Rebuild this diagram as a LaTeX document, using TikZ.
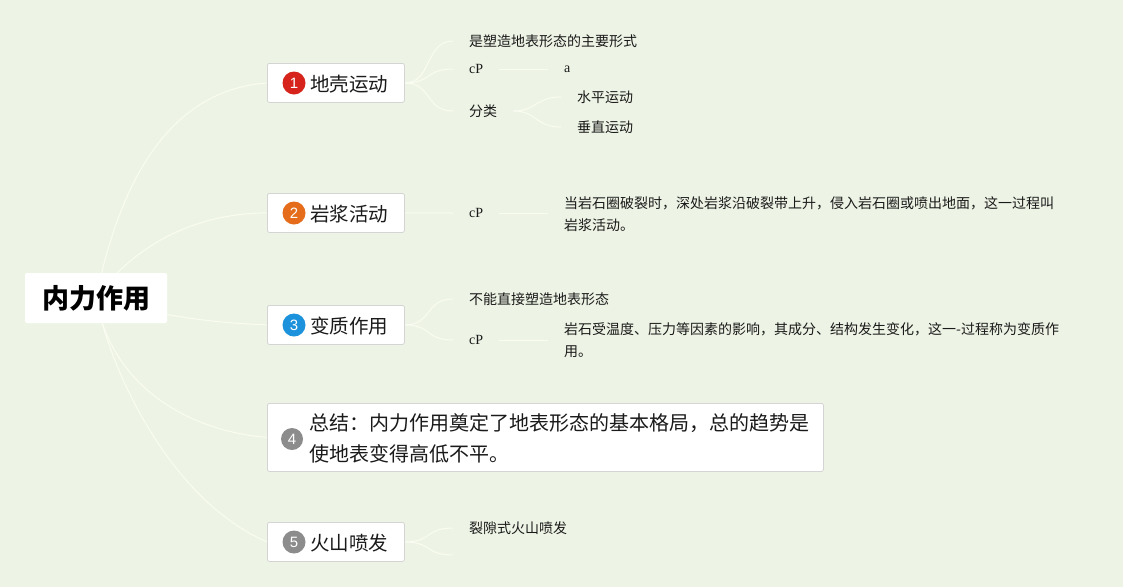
\documentclass[tikz,border=0pt]{standalone}
\usepackage{fontspec}
\setmainfont{Noto Sans CJK SC}
\newfontfamily\latinserif{Liberation Serif}
\newfontfamily\numfont{Liberation Sans}
\definecolor{bgc}{RGB}{237,244,229}
\definecolor{linec}{RGB}{250,252,242}
\definecolor{boxborder}{RGB}{212,212,212}
\definecolor{txt}{RGB}{26,26,26}
\definecolor{badgered}{RGB}{214,36,28}
\definecolor{badgeorange}{RGB}{228,108,26}
\definecolor{badgeblue}{RGB}{28,146,220}
\definecolor{badgegrey}{RGB}{140,140,140}
\pgfdeclarelayer{back}
\pgfdeclarelayer{lines}
\pgfsetlayers{back,lines,main}
\begin{document}
\begin{tikzpicture}[x=1pt,y=-1pt,
  mainbox/.style={draw=boxborder, fill=white, rounded corners=2pt, line width=0.8pt,
    minimum width=137pt, minimum height=39pt, inner sep=0pt, anchor=north west},
  rootbox/.style={fill=white, rounded corners=2pt, minimum width=142pt, minimum height=50pt,
    inner sep=0pt, text=black, font=\fontsize{27}{30}\selectfont\bfseries},
  badge/.style={circle, fill=#1, minimum size=23pt, inner sep=0pt, text=white,
    font=\numfont\fontsize{15}{15}\selectfont},
  maintext/.style={anchor=west, inner sep=0pt, text=txt, font=\fontsize{19.5}{24}\selectfont},
  sub/.style={anchor=west, inner xsep=16pt, inner ysep=0pt, text=txt,
    font=\fontsize{14}{22}\selectfont, align=left},
  latin/.style={anchor=west, inner xsep=16pt, inner ysep=0pt, text=txt,
    font=\latinserif\fontsize{14}{16}\selectfont},
  conn/.style={draw=linec, line width=1pt}]
\begin{pgfonlayer}{back}
\fill[bgc] (0,0) rectangle (1123,587);
\end{pgfonlayer}
\useasboundingbox (0,0) rectangle (1123,587);

% root
\node[rootbox] (root) at (96,298) {内力作用};

% main topics
\node[mainbox] (n1) at (267,63) {};
\node[badge=badgered] (b1) at (294,83) {1};
\node[maintext] (t1) at (310,84) {地壳运动};

\node[mainbox] (n2) at (267,193) {};
\node[badge=badgeorange] (b2) at (294,213) {2};
\node[maintext] (t2) at (310,214) {岩浆活动};

\node[mainbox] (n3) at (267,305) {};
\node[badge=badgeblue] (b3) at (294,325) {3};
\node[maintext] (t3) at (310,326) {变质作用};

\node[mainbox, minimum width=556pt, minimum height=68pt] (n4) at (267,403) {};
\node[badge=badgegrey, minimum size=22pt] (b4) at (292,439) {4};
\node[maintext, align=left, font=\fontsize{20}{31}\selectfont] (t4) at (309,438)
  {总结：内力作用奠定了地表形态的基本格局，总的趋势是\\使地表变得高低不平。};

\node[mainbox] (n5) at (267,522) {};
\node[badge=badgegrey] (b5) at (294,542) {5};
\node[maintext] (t5) at (310,543) {火山喷发};

% sub topics of 1
\node[sub] (s11) at (453,41) {是塑造地表形态的主要形式};
\node[latin] (s12) at (453,69) {cP};
\node[latin] (s12a) at (548,69) {a};
\node[sub] (s13) at (453,111) {分类};
\node[sub] (s131) at (561,97) {水平运动};
\node[sub] (s132) at (561,127) {垂直运动};

% sub topics of 2
\node[latin] (s21) at (453,213) {cP};
\node[sub] (s21a) at (548,214) {当岩石圈破裂时，深处岩浆沿破裂带上升，侵入岩石圈或喷出地面，这一过程叫\\岩浆活动。};

% sub topics of 3
\node[sub] (s31) at (453,299) {不能直接塑造地表形态};
\node[latin] (s32) at (453,340) {cP};
\node[sub] (s32a) at (548,340) {岩石受温度、压力等因素的影响，其成分、结构发生变化，这一-过程称为变质作\\用。};

% sub topics of 5
\node[sub] (s51) at (453,528) {裂隙式火山喷发};
\coordinate (s52) at (453,555);

\begin{pgfonlayer}{lines}
% root connectors
\draw[conn] (root.center) .. controls (120,180) and (170,90) .. (n1.west);
\draw[conn] (root.center) .. controls (130,250) and (190,213) .. (n2.west);
\draw[conn] (root.center) .. controls (160,315) and (200,322) .. (n3.west);
\draw[conn] (root.center) .. controls (110,380) and (180,430) .. (n4.west);
\draw[conn] (root.center) .. controls (110,370) and (170,500) .. (n5.west);
% node 1
\draw[conn] (n1.east) .. controls (432,83) and (425,41) .. (s11.west);
\draw[conn] (n1.east) .. controls (432,83) and (425,69) .. (s12.west);
\draw[conn] (n1.east) .. controls (432,83) and (425,111) .. (s13.west);
\draw[conn] (s12.east) -- (s12a.west);
\draw[conn] (s13.east) .. controls (537,111) and (535,97) .. (s131.west);
\draw[conn] (s13.east) .. controls (537,111) and (535,127) .. (s132.west);
% node 2
\draw[conn] (n2.east) -- (s21.west);
\draw[conn] (s21.east) -- (s21.east -| s21a.west);
% node 3
\draw[conn] (n3.east) .. controls (432,325) and (425,299) .. (s31.west);
\draw[conn] (n3.east) .. controls (432,325) and (425,340) .. (s32.west);
\draw[conn] (s32.east) -- (s32.east -| s32a.west);
% node 5
\draw[conn] (n5.east) .. controls (432,542) and (425,528) .. (s51.west);
\draw[conn] (n5.east) .. controls (432,542) and (425,555) .. (s52);
\end{pgfonlayer}
\end{tikzpicture}
\end{document}
